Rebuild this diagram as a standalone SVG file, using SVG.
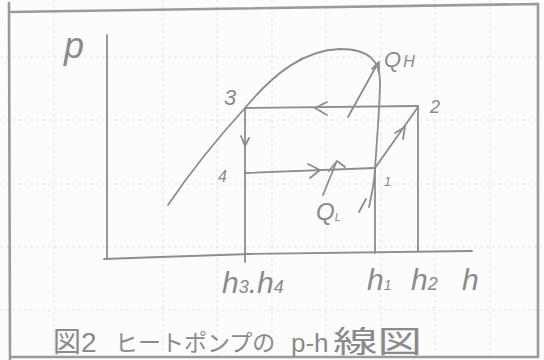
<svg xmlns="http://www.w3.org/2000/svg" width="544" height="360" viewBox="0 0 544 360">
<style>
.grid{stroke:#e4e4e4;stroke-width:1;stroke-dasharray:3 3;fill:none}
.pen{stroke:#8c8c8c;stroke-width:1.8;fill:none;stroke-linecap:round;stroke-linejoin:round}
.frame{stroke:#9a9a9a;stroke-width:2.6;fill:none}
.lbl{fill:#8a8a8a;font-family:"Liberation Sans","DejaVu Sans",sans-serif;font-style:italic}
.jp{fill:#8a8a8a;font-family:"Liberation Sans","Noto Sans CJK JP",sans-serif}
</style>
<rect x="0" y="0" width="544" height="360" fill="#fcfcfc"/>
<g id="grid">
<path class="grid" d="M54 0V360M163 0V360M217 0V360M272 0V360M326 0V360M381 0V360M435 0V360M490 0V360M0 57H544M0 120H544M0 184H544M0 247H544M0 310H544"/>
</g>
<g id="frame">
<path class="frame" d="M9 2 L10 360 M8 12 L538 4 L538 357 L10 357"/>
</g>
<g id="axes">
<path class="pen" d="M107 35 L107 259"/>
<path class="pen" d="M104 259 L160 257 L250 254 L472 251"/>
</g>
<g id="dome">
<path class="pen" d="M168 205 C195 165 225 130 245 108 C275 72 305 50 340 49 C368 49 381 60 380 85 C379 120 376 150 375 170 C374 185 371 198 369 207"/>
<path class="pen" d="M359 212 L366 199"/>
</g>
<g id="connectors">
<path class="pen" d="M245 108 L418 106"/>
<polyline class="pen" points="327,102 315,108 327,115"/>
<path class="pen" d="M245 108 L245 262"/>
<polyline class="pen" points="241,136 245,146 249,138"/>
<path class="pen" d="M245 173 L375 168"/>
<polyline class="pen" points="308,164 320,170 310,178"/>
<path class="pen" d="M375 168 L418 107"/>
<polyline class="pen" points="395,133 405,127 403,139"/>
<path class="pen" d="M375 168 L375 253"/>
<path class="pen" d="M418 107 L418 251"/>
<path class="pen" d="M348 117 L378 63"/>
<polyline class="pen" points="372,69 379,62 379,72"/>
<path class="pen" d="M323 195 L336 163"/>
<polyline class="pen" points="329,171 337,161 345,167"/>
</g>
<g id="labels">
<text class="lbl" x="64" y="58" font-size="36">p</text>
<text class="lbl" x="224" y="105" font-size="22">3</text>
<text class="lbl" x="430" y="113" font-size="18">2</text>
<text class="lbl" x="218" y="182" font-size="16">4</text>
<text class="lbl" x="384" y="186" font-size="13">1</text>
<text class="lbl" x="384" y="67" font-size="22">Q<tspan font-size="16" dx="2">H</tspan></text>
<text class="lbl" x="316" y="220" font-size="24">Q<tspan font-size="11" dy="1">L</tspan></text>
<text class="lbl" x="222" y="293" font-size="30">h<tspan font-size="18">3</tspan>.h<tspan font-size="18">4</tspan></text>
<text class="lbl" x="367" y="290" font-size="30">h<tspan font-size="14">1</tspan></text>
<text class="lbl" x="411" y="290" font-size="30">h<tspan font-size="18">2</tspan></text>
<text class="lbl" x="462" y="290" font-size="30">h</text>
</g>
<g id="caption">
<text class="jp" x="53" y="352" font-size="28">図2</text>
<text class="jp" x="115" y="351" font-size="23">ヒートポンプの</text>
<text class="jp" x="291" y="352" font-size="26">p-h</text>
<text class="jp" x="333" y="352" font-size="30" textLength="89" lengthAdjust="spacingAndGlyphs">線図</text>
</g>
</svg>
